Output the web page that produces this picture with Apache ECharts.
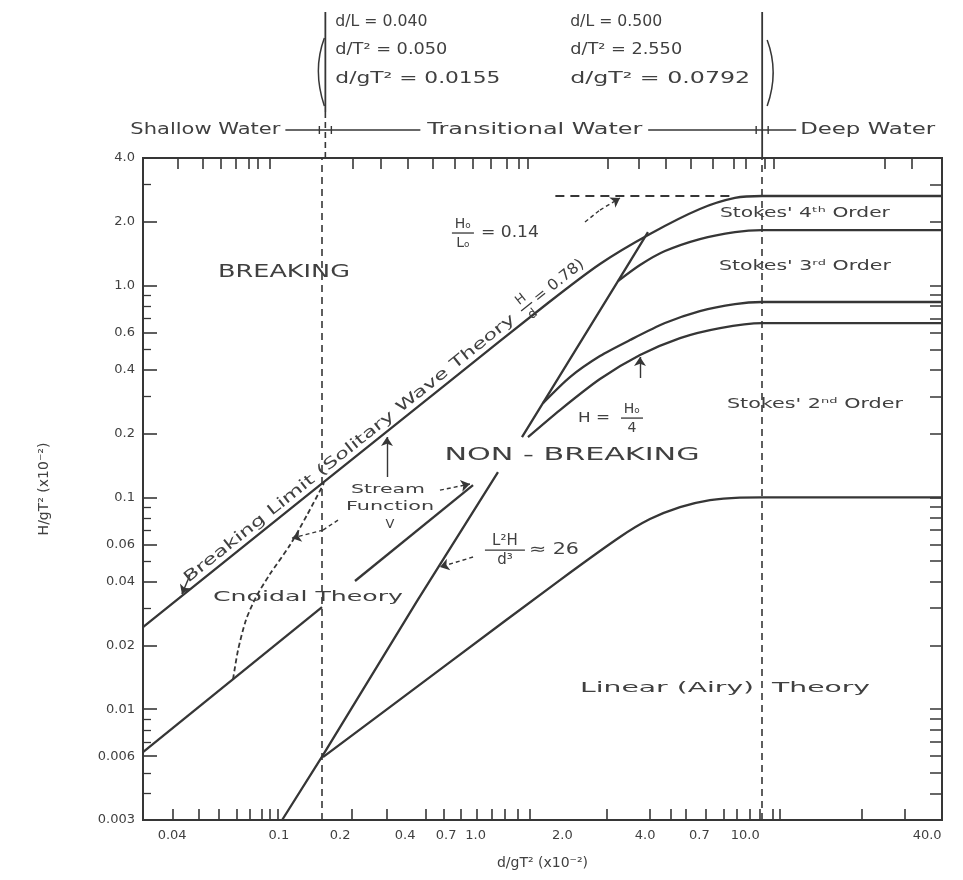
<!DOCTYPE html>
<html>
<head>
<meta charset="utf-8">
<title>Regions of validity of wave theories</title>
<script src="https://cdn.jsdelivr.net/npm/echarts@6.0.0/dist/echarts.min.js"></script>
<style>
html,body{margin:0;padding:0;background:#ffffff;}
#chart{width:963px;height:880px;}
</style>
</head>
<body>
<div id="chart"></div>
<script>
// ---------------- axes ----------------
const xMin = 0.03, xMax = 40, yMin = 0.003, yMax = 4.0;
const xTickLabels      = ["0.04","0.1","0.2","0.4","0.7","1.0","2.0","4.0","0.7","10.0","40.0"];
const xTickLabelValues = [0.039, 0.102, 0.177, 0.318, 0.46, 0.60, 1.31, 2.76, 4.5, 6.8, 35];
const xTicksBottom = [0.0393,0.0497,0.0595,0.0699,0.0786,0.0876,0.0941,0.1012,0.197,0.270,
                      0.384,0.451,0.526,0.607,0.695,0.781,0.878,0.979,
                      1.958,2.88,3.48,3.99,4.78,5.62,6.31,7.10,7.76,8.73,9.30,19.5,28.7];
const xTicksTop = [0.0411,0.0515,0.0606,0.0693,0.0779,0.0845,0.0941,
                   0.199,0.256,0.326,0.409,0.498,0.586,0.689,0.795,0.886,0.961,
                   1.976,2.61,3.33,4.17,5.09,6.14,6.85,8.12,8.81,23.9,30.5];
const yTickLabels      = ["4.0","2.0","1.0","0.6","0.4","0.2","0.1","0.06","0.04","0.02","0.01","0.006","0.003"];
const yTickLabelValues = [4.0, 2.0, 1.0, 0.6, 0.4, 0.2, 0.1, 0.06, 0.04, 0.02, 0.01, 0.006, 0.003];
const yMinorTicks = [3,0.9,0.8,0.7,0.5,0.3,0.09,0.08,0.07,0.05,0.03,0.009,0.008,0.007,0.005,0.004];
const yRightTicks = [3,2,1,0.9,0.8,0.7,0.6,0.5,0.4,0.3,0.2,0.1,0.09,0.08,0.07,0.06,0.05,0.04,0.03,0.02,0.01,0.009,0.008,0.007,0.006,0.005,0.004];

// ---------------- region limits (d/gT^2 x10^-2) ----------------
const shallowLimit = 0.155;
const deepLimit = 7.92;

// ---------------- curves: x = d/gT^2 (x10^-2), y = H/gT^2 (x10^-2) ----------------
const breakingX = [0.03, 0.1233, 0.476, 1.151, 1.838, 2.883, 4.52, 6.20, 7.91, 40];
const breakingY = [0.0244, 0.0961, 0.354, 0.827, 1.264, 1.751, 2.297, 2.59, 2.646, 2.646];
const deepBreakX = [1.23, 6.2];
const deepBreakY = [2.646, 2.646];
const stokes4X = [2.162, 2.636, 3.30, 4.52, 6.20, 7.91, 40];
const stokes4Y = [1.050, 1.250, 1.455, 1.658, 1.789, 1.828, 1.828];
const stokesLimitX = [0.9106, 2.162, 2.832];
const stokesLimitY = [0.1926, 1.050, 1.789];
const stokes3X = [1.100, 1.403, 1.838, 2.408, 3.30, 4.52, 6.20, 7.91, 40];
const stokes3Y = [0.2786, 0.3699, 0.4648, 0.5529, 0.6653, 0.758, 0.818, 0.836, 0.836];
const quarterX = [0.961, 1.282, 1.838, 2.636, 3.78, 5.42, 7.91, 40];
const quarterY = [0.1926, 0.2584, 0.3619, 0.4697, 0.5651, 0.630, 0.6653, 0.6653];
const airyX = [0.1517, 0.476, 1.282, 2.201, 2.883, 3.78, 4.95, 6.48, 7.91, 40];
const airyY = [0.00594, 0.01669, 0.0407, 0.0650, 0.0790, 0.0900, 0.0971, 0.0998, 0.1, 0.1];
const ursellX = [0.105, 0.1517, 0.3538, 0.7336];
const ursellY = [0.003, 0.00607, 0.0324, 0.1317];
const cnoidalLowX = [0.03, 0.1504];
const cnoidalLowY = [0.00627, 0.03035];
const streamX = [0.2024, 0.586];
const streamY = [0.0403, 0.1143];
const cnoidalLimX = [0.0675, 0.0706, 0.0758, 0.0830, 0.0941, 0.1127, 0.1314, 0.1531];
const cnoidalLimY = [0.01387, 0.01902, 0.02635, 0.03383, 0.04344, 0.05957, 0.0825, 0.1168];

// ---------------- leader arrows ----------------
const arrowStreamUpX = [0.270, 0.270],          arrowStreamUpY = [0.1247, 0.193];
const arrowStreamRightX = [0.435, 0.570],       arrowStreamRightY = [0.1082, 0.1156];
const arrowCnoidalX = [0.1737, 0.1517, 0.1148], arrowCnoidalY = [0.0781, 0.0701, 0.0642];
const arrowUrsellX = [0.586, 0.435],            arrowUrsellY = [0.0523, 0.0469];
const arrowDeepX = [1.606, 1.838, 2.201],       arrowDeepY = [1.994, 2.272, 2.59];
const arrowQuarterX = [2.636, 2.636],           arrowQuarterY = [0.3659, 0.4597];
const arrowBreakX = [0.0458, 0.0426],           arrowBreakY = [0.04297, 0.03495];

// ---------------- rendering ----------------
const LINE = '#363636';
const TXT = '#404040';
const FONT = 'DejaVu Sans';

const pairs = (xs, ys) => xs.map((x, i) => [x, ys[i]]);
function labelFor(v, vals, texts) {
  let best = 0, bd = Infinity;
  vals.forEach((t, i) => { const d = Math.abs(Math.log(t) - Math.log(v)); if (d < bd) { bd = d; best = i; } });
  return texts[best];
}
function curve(name, xs, ys, extra) {
  return Object.assign({
    type: 'line', name: name, data: pairs(xs, ys), showSymbol: false, symbol: 'none',
    smooth: 0.25, silent: true, z: 3,
    lineStyle: { color: LINE, width: 2.3 }
  }, extra || {});
}
// each leader is split into segments; only the last one carries the arrow head
function arrows(list, dashed) {
  const data = [];
  list.forEach(a => {
    const pts = pairs(a[0], a[1]);
    for (let i = 0; i < pts.length - 1; i++) {
      data.push({ coords: [pts[i], pts[i + 1]], symbol: ['none', i === pts.length - 2 ? 'arrow' : 'none'] });
    }
  });
  return {
    type: 'lines', coordinateSystem: 'cartesian2d', silent: true, z: 4,
    symbol: ['none', 'arrow'], symbolSize: [7, 9],
    lineStyle: { color: LINE, width: 1.4, type: dashed ? [4, 3] : 'solid', opacity: 1 },
    data: data
  };
}
const logAxisBase = { type: 'log', logBase: 10, splitLine: { show: false }, axisLine: { show: false } };

const option = {
  animation: false,
  backgroundColor: '#ffffff',
  grid: { left: 143, top: 158, right: 21, bottom: 60, show: true, borderColor: LINE, borderWidth: 2, containLabel: false },
  xAxis: [
    Object.assign({}, logAxisBase, {
      min: xMin, max: xMax, position: 'bottom',
      axisTick: { show: true, inside: true, length: 11, customValues: xTicksBottom, lineStyle: { color: LINE, width: 1.6 } },
      axisLabel: { show: true, customValues: xTickLabelValues, formatter: v => labelFor(v, xTickLabelValues, xTickLabels),
                   color: TXT, fontFamily: FONT, fontSize: 13, margin: 9 },
      name: 'd/gT² (x10⁻²)', nameLocation: 'middle', nameGap: 36,
      nameTextStyle: { color: TXT, fontFamily: FONT, fontSize: 14 }
    }),
    Object.assign({}, logAxisBase, {
      min: xMin, max: xMax, position: 'top',
      axisTick: { show: true, inside: true, length: 11, customValues: xTicksTop, lineStyle: { color: LINE, width: 1.6 } },
      axisLabel: { show: false }
    })
  ],
  yAxis: [
    Object.assign({}, logAxisBase, {
      min: yMin, max: yMax, position: 'left',
      axisTick: { show: true, inside: true, length: 14, customValues: yTickLabelValues, lineStyle: { color: LINE, width: 1.6 } },
      axisLabel: { show: true, customValues: yTickLabelValues, formatter: v => labelFor(v, yTickLabelValues, yTickLabels),
                   color: TXT, fontFamily: FONT, fontSize: 13, margin: 8 },
      name: 'H/gT² (x10⁻²)', nameLocation: 'middle', nameGap: 92, nameRotate: 90,
      nameTextStyle: { color: TXT, fontFamily: FONT, fontSize: 14 }
    }),
    Object.assign({}, logAxisBase, {
      min: yMin, max: yMax, position: 'left',
      axisTick: { show: true, inside: true, length: 8, customValues: yMinorTicks, lineStyle: { color: LINE, width: 1.3 } },
      axisLabel: { show: false }
    }),
    Object.assign({}, logAxisBase, {
      min: yMin, max: yMax, position: 'right',
      axisTick: { show: true, inside: true, length: 12, customValues: yRightTicks, lineStyle: { color: LINE, width: 1.5 } },
      axisLabel: { show: false }
    })
  ],
  series: [
    curve('Breaking limit', breakingX, breakingY),
    curve('Deep water breaking Ho/Lo=0.14', deepBreakX, deepBreakY, { smooth: false, lineStyle: { color: LINE, width: 2, type: [9, 6] } }),
    curve('Stokes 4th order', stokes4X, stokes4Y),
    curve('Stokes limit', stokesLimitX, stokesLimitY, { smooth: false }),
    curve('Stokes 3rd order', stokes3X, stokes3Y),
    curve('H = Ho/4', quarterX, quarterY),
    curve('Linear (Airy) limit', airyX, airyY),
    curve('L2H/d3 = 26', ursellX, ursellY, { smooth: false }),
    curve('Cnoidal lower', cnoidalLowX, cnoidalLowY, { smooth: false }),
    curve('Stream function', streamX, streamY, { smooth: false }),
    curve('Cnoidal limit', cnoidalLimX, cnoidalLimY, { lineStyle: { color: LINE, width: 1.8, type: [5, 3] } }),
    {
      type: 'line', name: 'limits', data: [], silent: true,
      markLine: { silent: true, symbol: 'none', label: { show: false },
        lineStyle: { color: LINE, width: 1.6, type: [7, 5] },
        data: [{ xAxis: shallowLimit }, { xAxis: deepLimit }] }
    },
    arrows([[arrowStreamUpX, arrowStreamUpY], [arrowQuarterX, arrowQuarterY], [arrowBreakX, arrowBreakY]], false),
    arrows([[arrowStreamRightX, arrowStreamRightY], [arrowCnoidalX, arrowCnoidalY], [arrowUrsellX, arrowUrsellY], [arrowDeepX, arrowDeepY]], true)
  ]
};

const chart = echarts.init(document.getElementById('chart'), null, { renderer: 'canvas' });
chart.setOption(option);

// ---------------- text annotations ----------------
const ctx = document.createElement('canvas').getContext('2d');
function measure(str, size, weight) { ctx.font = (weight || 'normal') + ' ' + size + 'px "' + FONT + '"'; return ctx.measureText(str).width; }
function T(x, y, text, o) {
  o = o || {};
  const size = o.size || 14;
  const w = measure(text, size, o.weight);
  return { type: 'text', x: x, y: y, scaleX: o.width ? o.width / w : 1, z: 20, silent: true,
    style: { text: text, x: 0, y: 0, fontSize: size, fontFamily: FONT, fontWeight: o.weight || 'normal', fill: TXT,
             align: o.align || 'center', verticalAlign: o.va || 'middle' } };
}
function L(x1, y1, x2, y2, w, dash) {
  return { type: 'line', z: 20, silent: true, shape: { x1: x1, y1: y1, x2: x2, y2: y2 },
    style: { stroke: LINE, lineWidth: w || 1.4, lineDash: dash || null } };
}
function frac(cx, cy, num, den, size, w) {
  return [T(cx, cy - 9, num, { size: size }), L(cx - w / 2, cy, cx + w / 2, cy, 1.3), T(cx, cy + 10, den, { size: size })];
}
const P = (x, y) => chart.convertToPixel({ gridIndex: 0 }, [x, y]);

const g = [];
const xs = P(shallowLimit, yMax)[0], xd = P(deepLimit, yMax)[0], topY = P(xMin, yMax)[1];
// header
g.push(L(xs, 12, xs, 112, 1.8), L(xs, 112, xs, topY, 1.6, [6, 4]), L(xd, 12, xd, topY, 1.8));
g.push({ type: 'bezierCurve', z: 20, silent: true, shape: { x1: xs - 1, y1: 38, cpx1: xs - 13, cpy1: 70, x2: xs - 1, y2: 106 }, style: { stroke: LINE, lineWidth: 1.5, fill: null } });
g.push({ type: 'bezierCurve', z: 20, silent: true, shape: { x1: xd + 5, y1: 40, cpx1: xd + 17, cpy1: 72, x2: xd + 5, y2: 106 }, style: { stroke: LINE, lineWidth: 1.5, fill: null } });
g.push(T(xs + 10, 22, 'd/L = 0.040', { align: 'left', width: 92, size: 16 }));
g.push(T(xs + 10, 50, 'd/T² = 0.050', { align: 'left', width: 112, size: 16 }));
g.push(T(xs + 10, 79, 'd/gT² = 0.0155', { align: 'left', width: 165, size: 16 }));
g.push(T(xd - 192, 22, 'd/L = 0.500', { align: 'left', width: 92, size: 16 }));
g.push(T(xd - 192, 50, 'd/T² = 2.550', { align: 'left', width: 112, size: 16 }));
g.push(T(xd - 192, 79, 'd/gT² = 0.0792', { align: 'left', width: 180, size: 16 }));
g.push(T(xs - 45, 130, 'Shallow Water', { align: 'right', width: 150, size: 15 }));
g.push(L(xs - 40, 130, xs + 95, 130, 1.6), L(xs - 6, 126, xs - 6, 134, 1.4), L(xs + 6, 126, xs + 6, 134, 1.4));
g.push(T(xs + 102, 130, 'Transitional Water', { align: 'left', width: 215, size: 15 }));
g.push(L(xd - 114, 130, xd + 34, 130, 1.6), L(xd - 6, 126, xd - 6, 134, 1.4), L(xd + 6, 126, xd + 6, 134, 1.4));
g.push(T(xd + 38, 130, 'Deep Water', { align: 'left', width: 135, size: 15 }));

// plot labels (anchors in data coordinates)
let p;
p = P(0.1068, 1.158); g.push(T(p[0], p[1], 'BREAKING', { size: 18, width: 132 }));
p = P(1.429, 0.1584); g.push(T(p[0], p[1], 'NON - BREAKING', { size: 18, width: 255 }));
p = P(0.535, 1.770); g.push(...frac(p[0], p[1], 'Hₒ', 'Lₒ', 14, 22)); g.push(T(p[0] + 18, p[1], '= 0.14', { align: 'left', width: 58, size: 15 }));
p = P(11.64, 2.200); g.push(T(p[0], p[1], "Stokes' 4ᵗʰ Order", { size: 14, width: 170 }));
p = P(11.64, 1.236); g.push(T(p[0], p[1], "Stokes' 3ʳᵈ Order", { size: 14, width: 172 }));
p = P(12.74, 0.2758); g.push(T(p[0], p[1], "Stokes' 2ⁿᵈ Order", { size: 14, width: 176 }));
p = P(2.048, 0.2368); g.push(T(p[0] - 2, p[1], 'H =', { align: 'right', size: 14, width: 32 })); g.push(...frac(p[0] + 20, p[1], 'Hₒ', '4', 14, 22));
p = P(0.2775, 0.0900); g.push(T(p[0] - 2, p[1] - 17, 'Stream', { size: 13, width: 74 }), T(p[0], p[1], 'Function', { size: 13, width: 88 }), T(p[0], p[1] + 18, 'V', { size: 13 }));
p = P(0.781, 0.0564); g.push(...frac(p[0], p[1], 'L²H', 'd³', 15, 40)); g.push(T(p[0] + 24, p[1], '≈ 26', { align: 'left', width: 50, size: 15 }));
p = P(0.1326, 0.03383); g.push(T(p[0], p[1], 'Cnoidal Theory', { size: 14, width: 190 }));
p = P(5.67, 0.01258); g.push(T(p[0], p[1], 'Linear (Airy)  Theory', { size: 14, width: 290 }));

// rotated breaking-limit caption along the breaking line
const b0 = P(breakingX[0], breakingY[0]), b3 = P(breakingX[3], breakingY[3]);
const ang = Math.atan2(b0[1] - b3[1], b3[0] - b0[0]);
p = P(0.0442, 0.0353);
g.push({ type: 'group', x: p[0], y: p[1], rotation: ang, silent: true, children: [
  T(8, -3, 'Breaking Limit (Solitary Wave Theory', { align: 'left', va: 'bottom', size: 15, width: 420 }),
  ...frac(445, -11, 'H', 'd', 13, 14),
  T(456, -3, '= 0.78)', { align: 'left', va: 'bottom', size: 15, width: 60 })
] });

chart.setOption({ graphic: { elements: g } });
</script>
</body>
</html>
